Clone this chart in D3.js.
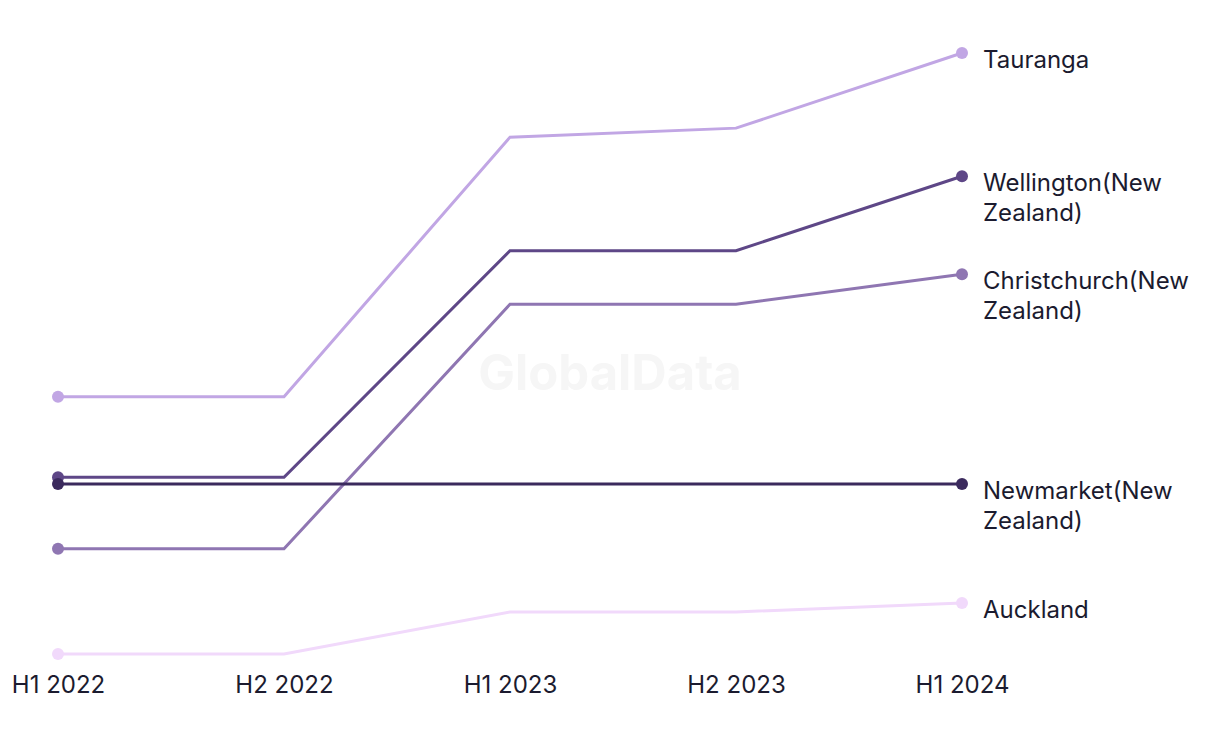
<!DOCTYPE html>
<html><head><meta charset="utf-8">
<script src="https://cdn.jsdelivr.net/npm/d3@7"></script>
<style>html,body{margin:0;padding:0;background:#fff;}svg{display:block;}</style>
</head><body>
<svg id="chart" width="1220" height="744"></svg>
<script>
const periods = ["H1 2022","H2 2022","H1 2023","H2 2023","H1 2024"];
const seriesNames = ["Tauranga","Wellington(New Zealand)","Christchurch(New Zealand)","Newmarket(New Zealand)","Auckland"];
const labelLines = [["Tauranga"],["Wellington(New","Zealand)"],["Christchurch(New","Zealand)"],["Newmarket(New","Zealand)"],["Auckland"]];
const tauranga = [42.8, 42.8, 86.0, 87.5, 100];
const wellington = [29.4, 29.4, 67.1, 67.1, 79.5];
const christchurch = [17.5, 17.5, 58.2, 58.2, 63.2];
const newmarket = [28.3, 28.3, 28.3, 28.3, 28.3];
const auckland = [0, 0, 7.0, 7.0, 8.5];
const colors = ["#c1a6e4","#5e4787","#8f76b2","#3b2a5d","#f1d9fb"];
const allValues = [tauranga, wellington, christchurch, newmarket, auckland];

const svg = d3.select("#chart");
const x = d3.scalePoint().domain(periods).range([58, 962]);
const y = d3.scaleLinear().domain([0, 100]).range([654, 53]);
const font = "Inter, 'Liberation Sans', Arial, sans-serif";

svg.append("text").attr("x", 610).attr("y", 390).attr("text-anchor","middle")
  .attr("font-family", font).attr("font-weight","bold").attr("font-size", 49)
  .attr("fill","#f6f6f6").text("GlobalData");

const xAxis = svg.append("g").attr("transform","translate(0,675)")
  .call(d3.axisBottom(x).tickSize(0).tickPadding(0));
xAxis.select(".domain").remove();
xAxis.selectAll("text").attr("font-family", font).attr("font-size", 24)
  .attr("fill","#1b1b2f").attr("dy","0.75em");

const line = d3.line().x((d,i)=>x(periods[i])).y(d=>y(d));
const order = [4,2,1,3,0];
order.forEach(k=>{
  const vals = allValues[k];
  const g = svg.append("g");
  g.append("path").datum(vals).attr("d", line).attr("fill","none")
    .attr("stroke", colors[k]).attr("stroke-width", 3);
  g.append("circle").attr("cx", x(periods[0])).attr("cy", y(vals[0])).attr("r", 6).attr("fill", colors[k]);
  g.append("circle").attr("cx", x(periods[4])).attr("cy", y(vals[4])).attr("r", 6).attr("fill", colors[k]);
  const t = svg.append("text").attr("x", x(periods[4]) + 21).attr("y", y(vals[4]) + 15)
    .attr("font-family", font).attr("font-size", 24).attr("fill","#1b1b2f");
  labelLines[k].forEach((ln,j)=>{
    t.append("tspan").attr("x", x(periods[4]) + 21).attr("dy", j===0?0:30).text(ln);
  });
});
</script>
</body></html>
